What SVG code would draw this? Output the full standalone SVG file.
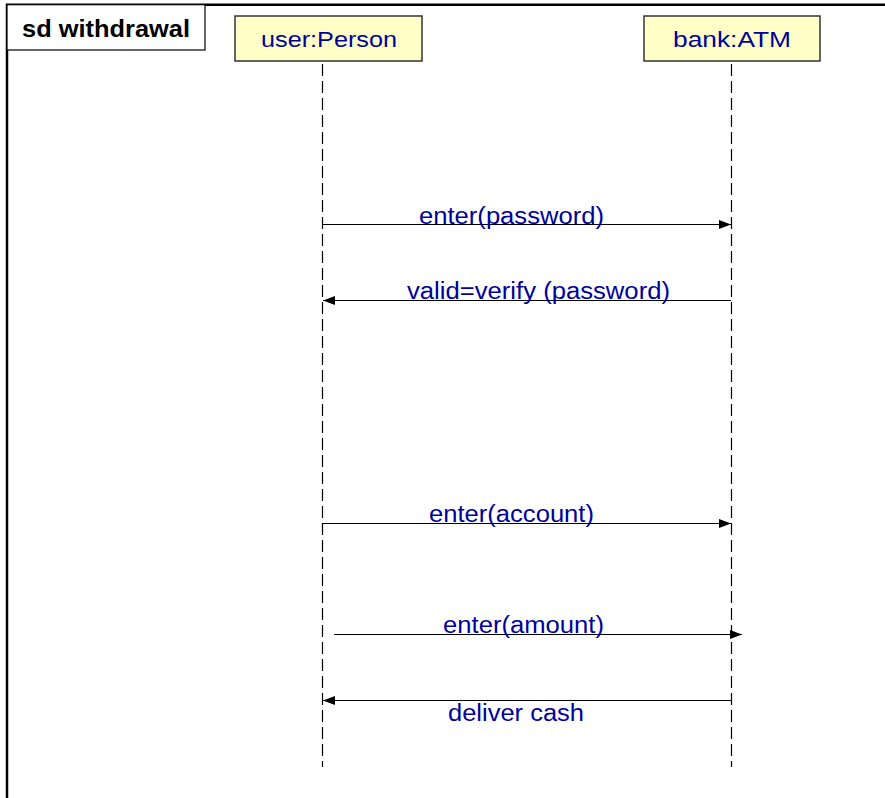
<svg xmlns="http://www.w3.org/2000/svg" width="885" height="798" viewBox="0 0 885 798">
<style>
.frame{fill:none;stroke:#000;stroke-width:2.5}
.tag{fill:#fff;stroke:#000;stroke-width:1.2}
.tagtxt{font-family:"Liberation Sans",Arial,sans-serif;font-weight:bold;font-size:23px;fill:#000}
.head{fill:#ffffc8;stroke:#333;stroke-width:1.5}
.headtxt{font-family:"Liberation Sans",Arial,sans-serif;font-size:22px;fill:#000099}
.life{stroke:#000;stroke-width:1.2;stroke-dasharray:12 5;fill:none}
.msg{stroke:#000;stroke-width:1.2;fill:none}
.lbl{font-family:"Liberation Sans",Arial,sans-serif;font-size:23px;fill:#000099}
</style>
<defs>
<marker id="ah" markerWidth="12" markerHeight="10" refX="12" refY="4.5" orient="auto" markerUnits="userSpaceOnUse">
<path d="M0,0 L12,4.5 L0,9 Z" fill="#000"/>
</marker>
</defs>
<rect width="885" height="798" fill="#fff"/>
<g id="frame">
<path class="frame" d="M7,798 L7,4.7 L885,4.7"/>
<rect class="tag" x="7" y="4.7" width="198" height="45.3"/>
<text class="tagtxt" x="22" y="37" textLength="168" lengthAdjust="spacingAndGlyphs">sd withdrawal</text>
</g>
<g id="user">
<rect class="head" x="235" y="16" width="187" height="45"/>
<text class="headtxt" x="261" y="47" textLength="136" lengthAdjust="spacingAndGlyphs">user:Person</text>
<line class="life" x1="322.5" y1="64" x2="322.5" y2="767"/>
</g>
<g id="bank">
<rect class="head" x="644" y="16" width="176" height="45"/>
<text class="headtxt" x="673" y="47" textLength="118" lengthAdjust="spacingAndGlyphs">bank:ATM</text>
<line class="life" x1="731.5" y1="64" x2="731.5" y2="767"/>
</g>
<g id="connectors">
<line class="msg" x1="323" y1="224.5" x2="731" y2="224.5" marker-end="url(#ah)"/>
<text class="lbl" x="419" y="223.5" textLength="185" lengthAdjust="spacingAndGlyphs">enter(password)</text>
<line class="msg" x1="731" y1="300.5" x2="323" y2="300.5" marker-end="url(#ah)"/>
<text class="lbl" x="407" y="299" textLength="263" lengthAdjust="spacingAndGlyphs">valid=verify (password)</text>
<line class="msg" x1="323" y1="523.5" x2="731" y2="523.5" marker-end="url(#ah)"/>
<text class="lbl" x="429" y="522" textLength="165" lengthAdjust="spacingAndGlyphs">enter(account)</text>
<line class="msg" x1="334" y1="634.5" x2="742" y2="634.5" marker-end="url(#ah)"/>
<text class="lbl" x="443" y="633" textLength="161" lengthAdjust="spacingAndGlyphs">enter(amount)</text>
<line class="msg" x1="731" y1="700.5" x2="323" y2="700.5" marker-end="url(#ah)"/>
<text class="lbl" x="448" y="721" textLength="136" lengthAdjust="spacingAndGlyphs">deliver cash</text>
</g>
</svg>
